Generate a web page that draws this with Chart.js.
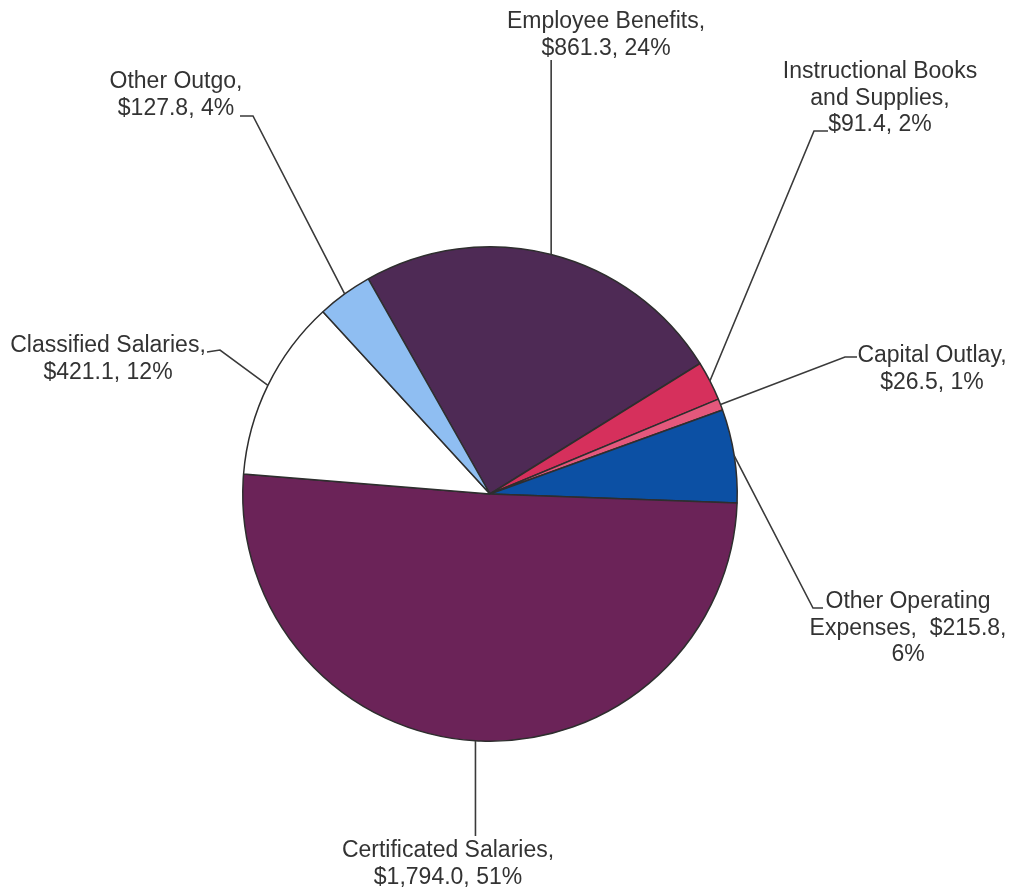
<!DOCTYPE html>
<html>
<head>
<meta charset="utf-8">
<script src="https://cdn.jsdelivr.net/npm/chart.js@4"></script>
<style>
  html, body { margin: 0; padding: 0; background: #fff; }
  #wrap { width: 1013px; height: 890px; position: relative; }
</style>
</head>
<body>
<div id="wrap"><canvas id="pie" width="1013" height="890"></canvas></div>
<script>
// --- data (clockwise from the top-left edge of Employee Benefits) ---
const categories = ['Employee Benefits', 'Instructional Books and Supplies', 'Capital Outlay',
  'Other Operating Expenses', 'Certificated Salaries', 'Classified Salaries', 'Other Outgo'];
const amounts = [861.3, 91.4, 26.5, 215.8, 1794.0, 421.1, 127.8];
const shares = [24, 2, 1, 6, 51, 12, 4];
const sliceColors = ['#4e2a55', '#d6305c', '#e4587c', '#0c50a4', '#6b2358', '#ffffff', '#8fbef2'];

// label layout: words per line, text centre, leader elbow points (anchor is the slice mid-edge)
const labelLayout = [
  { words: [2, 2],    x: 606, y: 22,  elbow: [[null, 60]] },
  { words: [2, 2, 2], x: 880, y: 72,  elbow: [[814, 131], [828, 131]] },
  { words: [2, 2],    x: 932, y: 356, elbow: [[845, 357], [857, 357]] },
  { words: [2, 2, 1], x: 908, y: 602, elbow: [[813, 608], [823, 608]] },
  { words: [2, 2],    x: 448, y: 851, elbow: [[null, 836]] },
  { words: [2, 2],    x: 108, y: 346, elbow: [[220, 350], [207, 352]] },
  { words: [2, 2],    x: 176, y: 82,  elbow: [[253, 116], [240, 116]] }
];

function money(v) {
  return '$' + v.toLocaleString('en-US', { minimumFractionDigits: 1, maximumFractionDigits: 1 });
}

function labelLines(i) {
  const words = (categories[i] + ', ' + money(amounts[i]) + ', ' + shares[i] + '%').split(' ');
  const lines = [];
  let k = 0;
  labelLayout[i].words.forEach(n => {
    lines.push(words.slice(k, k + n).join(i === 3 && lines.length === 1 ? '  ' : ' '));
    k += n;
  });
  return lines;
}

// leader lines + labels
const leaderLabels = {
  id: 'leaderLabels',
  afterDatasetsDraw(chart) {
    const ctx = chart.ctx;
    const arcs = chart.getDatasetMeta(0).data;
    ctx.save();
    arcs.forEach((arc, i) => {
      const mid = (arc.startAngle + arc.endAngle) / 2;
      const ax = arc.x + Math.cos(mid) * arc.outerRadius;
      const ay = arc.y + Math.sin(mid) * arc.outerRadius;
      const lay = labelLayout[i];

      ctx.strokeStyle = '#3a3a3a';
      ctx.lineWidth = 1.6;
      ctx.beginPath();
      ctx.moveTo(ax, ay);
      lay.elbow.forEach(p => ctx.lineTo(p[0] === null ? ax : p[0], p[1]));
      ctx.stroke();

      ctx.fillStyle = '#333333';
      ctx.font = '23px "Liberation Sans", Arial, sans-serif';
      ctx.textAlign = 'center';
      ctx.textBaseline = 'middle';
      labelLines(i).forEach((t, j) => ctx.fillText(t, lay.x, lay.y + j * 26.5));
    });
    ctx.restore();
  }
};

new Chart(document.getElementById('pie'), {
  type: 'pie',
  data: {
    labels: categories,
    datasets: [{
      data: amounts,
      backgroundColor: sliceColors,
      borderColor: '#2e2e2e',
      borderWidth: 1.5,
      hoverOffset: 0
    }]
  },
  options: {
    responsive: false,
    animation: false,
    rotation: -29.5,
    layout: { padding: { left: 242, right: 275, top: 246, bottom: 148 } },
    plugins: {
      legend: { display: false },
      tooltip: { enabled: false }
    }
  },
  plugins: [leaderLabels]
});
</script>
</body>
</html>
